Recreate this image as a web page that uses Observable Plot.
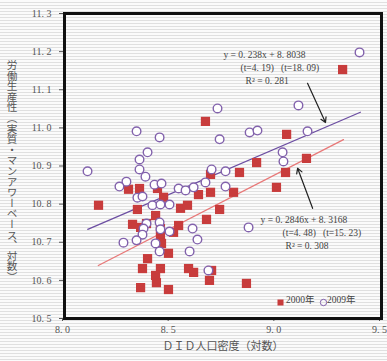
<!DOCTYPE html>
<html><head><meta charset="utf-8">
<script src="https://cdn.jsdelivr.net/npm/d3@7"></script>
<script src="https://cdn.jsdelivr.net/npm/@observablehq/plot@0.6"></script>
<style>
html,body{margin:0;padding:0;}
body{width:387px;height:361px;overflow:hidden;background:repeating-linear-gradient(to bottom,#fbfbfb 0px,#fbfbfb 2px,#e0e0e0 2px,#e0e0e0 3px);}
svg{display:block;}
</style></head><body><div id="chart"></div>
<script>
// 2009年 (open circles)
const x2009 = [8.109,8.341,8.450,8.393,8.355,8.355,8.383,8.293,8.260,8.426,8.459,8.345,8.369,8.724,8.734,8.876,8.913,8.696,8.762,8.667,8.762,8.540,8.573,8.611,8.416,8.454,8.497,8.450,8.388,8.374,8.369,8.454,8.279,8.341,8.431,8.450,8.497,8.606,8.629,8.592,8.681,8.871,9.396,9.107,9.150,9.032,9.036];
const y2009 = [10.886,10.991,10.975,10.936,10.917,10.891,10.872,10.859,10.846,10.851,10.854,10.817,10.820,11.051,10.970,10.988,10.993,10.891,10.886,10.857,10.846,10.841,10.836,10.844,10.797,10.799,10.799,10.752,10.749,10.736,10.720,10.734,10.699,10.705,10.697,10.676,10.728,10.736,10.707,10.676,10.626,10.739,11.198,11.059,10.991,10.936,10.912];
// 2000年 (filled squares)
const x2000 = [8.161,8.303,8.355,8.440,8.469,8.667,8.691,8.828,8.909,8.634,8.691,8.800,9.051,9.046,9.145,9.003,8.734,8.672,8.696,8.686,8.861,9.316,8.345,8.549,8.582,8.431,8.322,8.388,8.360,8.454,8.459,8.492,8.393,8.369,8.454,8.431,8.435,8.360,8.492,8.540,8.516,8.587,8.611,8.454];
const y2000 = [10.797,10.839,10.841,10.841,10.818,11.017,10.878,10.883,10.909,10.825,10.831,10.831,10.983,10.883,10.920,10.844,10.786,10.760,10.626,10.600,10.592,11.153,10.786,10.789,10.797,10.770,10.747,10.749,10.739,10.713,10.697,10.671,10.657,10.631,10.631,10.613,10.594,10.581,10.576,10.744,10.726,10.631,10.621,10.736];

const xTicks = [8.0, 8.5, 9.0, 9.5];
const yTicks = [10.5, 10.6, 10.7, 10.8, 10.9, 11.0, 11.1, 11.2, 11.3];

// regression lines: slope, intercept, x-range drawn
const fitSlope = [0.2846, 0.238];
const fitIntercept = [8.3168, 8.8038];
const fitFrom = [8.16, 8.11];
const fitTo = [9.32, 9.40];
const fitColor = ["#e87878", "#6c4ea2"];

// annotation text
const eqLines2009 = ["y = 0. 238x + 8. 8038", "(t=4. 19)   (t=18. 09)", "R² = 0. 281"];
const eqX2009 = [8.752, 8.833, 8.857];
const eqY2009 = [11.192, 11.157, 11.123];
const eqLines2000 = ["y = 0. 2846x + 8. 3168", "(t=4. 48)   (t=15. 23)", "R² = 0. 308"];
const eqX2000 = [8.928, 9.032, 9.046];
const eqY2000 = [10.758, 10.724, 10.690];
// arrows from label to line
const arrowX1 = [9.150, 9.174];
const arrowY1 = [11.117, 10.789];
const arrowX2 = [9.235, 9.103];
const arrowY2 = [11.014, 10.894];

const legendLabels = ["2000年", "2009年"];
const xLabel = "ＤＩＤ人口密度（対数）";
const yLabel = "労働生産性（実質・マンアワーベース、対数）";

const pts2009 = x2009.map((x, i) => ({x, y: y2009[i]}));
const pts2000 = x2000.map((x, i) => ({x, y: y2000[i]}));
const lines = [];
fitSlope.forEach((a, i) => {
  [fitFrom[i], fitTo[i]].forEach(x => lines.push({k: i, x, y: a * x + fitIntercept[i]}));
});
const eq1 = eqLines2009.map((t, i) => ({t, x: eqX2009[i], y: eqY2009[i]}));
const eq2 = eqLines2000.map((t, i) => ({t, x: eqX2000[i], y: eqY2000[i]}));
const arrows = arrowX1.map((x1, i) => ({x1, y1: arrowY1[i], x2: arrowX2[i], y2: arrowY2[i]}));

const serif = "'Liberation Serif','Noto Sans CJK JP',serif";
const fmt = d => d.toFixed(1).replace(".", ". ");

const plot = Plot.plot({
  width: 387, height: 361,
  marginLeft: 64, marginRight: 6, marginTop: 13, marginBottom: 43,
  style: {background: "transparent", fontFamily: serif, fontSize: "10px", color: "#555"},
  x: {domain: [8.0, 9.5]},
  y: {domain: [10.5, 11.3]},
  marks: [
    Plot.axisY({ticks: yTicks, tickFormat: fmt, tickSize: 5, tickPadding: 8, label: null, stroke: "#555", letterSpacing: 0.6}),
    Plot.axisX({ticks: xTicks, tickFormat: fmt, tickSize: 3, tickPadding: 4, label: null, stroke: "#555", letterSpacing: 0.3, dx: -2}),
    Plot.line(lines, {x: "x", y: "y", z: "k", stroke: d => fitColor[d.k], strokeWidth: 1.3}),
    Plot.dot(pts2000, {x: "x", y: "y", symbol: "square", r: 5.2, fill: "#c83c3c", stroke: "none"}),
    Plot.dot(pts2009, {x: "x", y: "y", r: 4.3, fill: "white", stroke: "#8262ac", strokeWidth: 1.4}),
    Plot.arrow(arrows, {x1: "x1", y1: "y1", x2: "x2", y2: "y2", stroke: "#222", strokeWidth: 1.2, headLength: 7}),
    Plot.text(eq1, {x: "x", y: "y", text: "t", textAnchor: "start", fontSize: 9.5, fill: "#444", letterSpacing: 0.3}),
    Plot.text(eq2, {x: "x", y: "y", text: "t", textAnchor: "start", fontSize: 9.5, fill: "#444", letterSpacing: 0.3}),
    // legend
    Plot.dot([0], {frameAnchor: "bottom-right", dx: -101, dy: -16, symbol: "square", r: 3.4, fill: "#c83c3c"}),
    Plot.text([legendLabels[0]], {frameAnchor: "bottom-right", dx: -67, dy: -16, text: d => d, fill: "#444", fontSize: 9.5}),
    Plot.dot([0], {frameAnchor: "bottom-right", dx: -58, dy: -16, r: 3.2, fill: "none", stroke: "#8262ac", strokeWidth: 1}),
    Plot.text([legendLabels[1]], {frameAnchor: "bottom-right", dx: -26, dy: -16, text: d => d, fill: "#444", fontSize: 9.5}),
    Plot.text([xLabel], {frameAnchor: "bottom", dy: 31, text: d => d, fontFamily: "'Noto Sans CJK JP'", fontSize: 11, fill: "#555", letterSpacing: 1.2}),
    Plot.frame({stroke: "#111", strokeWidth: 3})
  ]
});
const svg = d3.select(plot);
svg.append("text")
  .attr("x", 12).attr("y", 171)
  .attr("text-anchor", "middle")
  .style("writing-mode", "vertical-rl")
  .style("font-family", "'Noto Sans CJK JP'")
  .style("font-size", "10.6px")
  .attr("fill", "#555")
  .text(yLabel);
document.getElementById("chart").append(plot);
</script></body></html>
